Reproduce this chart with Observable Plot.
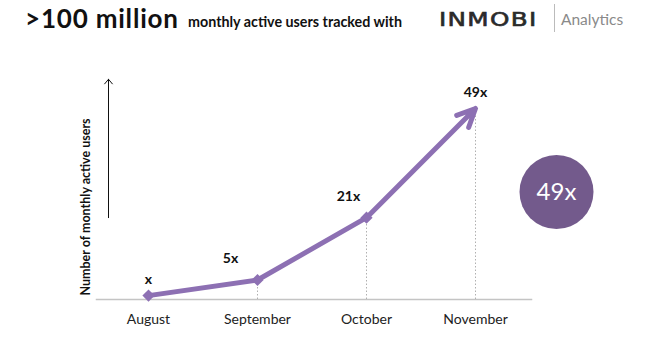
<!DOCTYPE html>
<html>
<head>
<meta charset="utf-8">
<script src="https://cdn.jsdelivr.net/npm/d3@7"></script>
<script src="https://cdn.jsdelivr.net/npm/@observablehq/plot@0.6"></script>
<style>
  html, body { margin: 0; padding: 0; background: #fff; }
  #wrap { position: relative; width: 648px; height: 339px; overflow: hidden; font-family: Lato, "Open Sans", sans-serif; }
  #title { position: relative; height: 45px; }
  #title span { position: absolute; white-space: nowrap; }
  .big { left: 25px; top: 2px; font-size: 26px; font-weight: 700; color: #111; letter-spacing: 0.8px; }
  .sub { left: 188px; top: 13px; font-size: 14.3px; font-weight: 700; color: #111; }
  .logo { left: 439px; top: 8px; font-size: 19px; font-weight: 400; color: #2a2a2a; letter-spacing: 1px; font-family: "DejaVu Sans", sans-serif; transform: scaleX(1.3); transform-origin: left; -webkit-text-stroke: 0.6px #2a2a2a; }
  .sep { left: 554px; top: 4px; width: 1px; height: 28px; background: #bbb; }
  .ana { left: 561px; top: 10px; font-size: 15.5px; font-weight: 400; color: #8a8a8a; }
  #chart svg { display: block; }
</style>
</head>
<body>
<div id="wrap">
  <div id="title">
    <span class="big">&gt;100 million</span>
    <span class="sub">monthly active users tracked with</span>
    <span class="logo">INMOBI</span>
    <span class="sep"></span>
    <span class="ana">Analytics</span>
  </div>
  <div id="chart"></div>
</div>
<script>
const months = ["August", "September", "October", "November"];
const users = [1, 5, 21, 49];
const growthLabels = ["x", "5x", "21x", "49x"];
const yAxisTitle = "Number of monthly active users";
const calloutLabel = "49x";
const yArrowRange = [21, 56.5];

const lineColor = "#8d70b3";
const data = months.map((m, i) => ({month: m, users: users[i], label: growthLabels[i]}));
const last = data[data.length - 1];
const prev = data[data.length - 2];

const font = "Lato, 'Open Sans', sans-serif";

const chart = Plot.plot({
  width: 648,
  height: 294,
  marginLeft: 96,
  marginRight: 117,
  marginTop: 63,
  marginBottom: 40,
  style: {fontFamily: font, background: "#fff"},
  x: {type: "point", domain: months, padding: 0.49, align: 0.486},
  y: {domain: [0, 49], axis: null},
  marks: [
    Plot.frame({anchor: "bottom", stroke: "#c4c4c4", strokeWidth: 1.5}),
    Plot.ruleX(data.slice(1), {x: "month", y1: 0, y2: "users", stroke: "#b0b0b0", strokeWidth: 1, strokeDasharray: "1.5,2"}),
    Plot.axisX({tickSize: 0, tickPadding: 15, fontSize: 14, fill: "#222", label: null}),
    Plot.line(data.slice(0, 3), {x: "month", y: "users", stroke: lineColor, strokeWidth: 5}),
    Plot.arrow([{x1: prev.month, y1: prev.users, x2: last.month, y2: last.users}], {
      x1: "x1", y1: "y1", x2: "x2", y2: "y2",
      stroke: lineColor, strokeWidth: 5, headLength: 6, headAngle: 50
    }),
    Plot.dot(data.slice(0, 3), {x: "month", y: "users", symbol: "diamond2", r: 5.5, fill: lineColor, stroke: "none"}),
    Plot.text(data.filter((d, i) => i === 0 || i === 3), {x: "month", y: "users", text: "label", dy: -16, fontSize: 14, fontWeight: 700, fill: "#111"}),
    Plot.text(data.filter((d, i) => i === 1), {x: "month", y: "users", text: "label", dx: -27, dy: -21, fontSize: 14, fontWeight: 700, fill: "#111"}),
    Plot.text(data.filter((d, i) => i === 2), {x: "month", y: "users", text: "label", dx: -18, dy: -21, fontSize: 14, fontWeight: 700, fill: "#111"}),
    Plot.arrow([{x: months[0], y1: yArrowRange[0], y2: yArrowRange[1]}], {
      x1: "x", x2: "x", y1: "y1", y2: "y2", dx: -40,
      stroke: "#111", strokeWidth: 1, headLength: 9, headAngle: 80
    }),
    Plot.text([yAxisTitle], {frameAnchor: "left", textAnchor: "middle", rotate: -90, dx: -11, dy: 3, fontSize: 12.5, fontWeight: 700, fill: "#111"}),
    Plot.dot([calloutLabel], {frameAnchor: "right", dx: 25, dy: -12, r: 37, fill: "#735a8c", stroke: "none"}),
    Plot.text([calloutLabel], {frameAnchor: "right", textAnchor: "middle", dx: 25, dy: -12, fontSize: 24, fill: "#fff"})
  ]
});
document.getElementById("chart").appendChild(chart);
</script>
</body>
</html>
